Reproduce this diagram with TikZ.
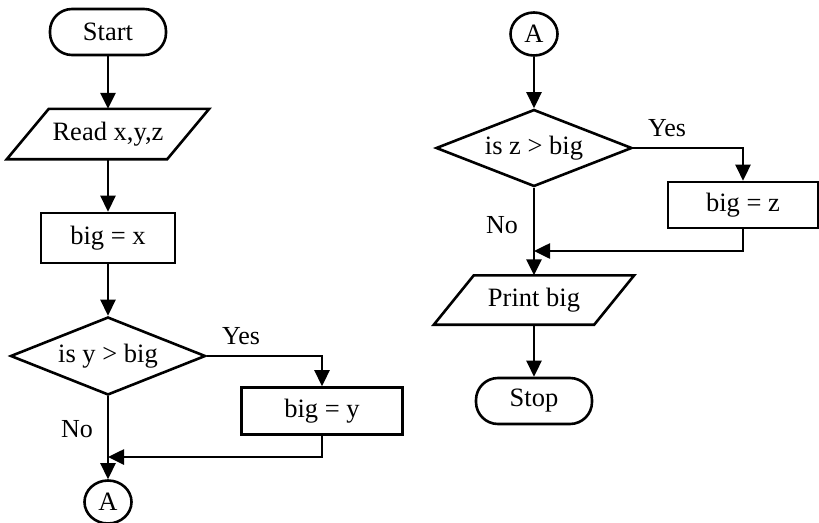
\documentclass[tikz,border=0pt]{standalone}
\usepackage{fontspec}
\setmainfont{Liberation Serif}
\usetikzlibrary{arrows.meta,shapes.geometric,calc}

\tikzset{
  base/.style={draw, line width=2.6pt, inner sep=0pt, font=\fontsize{26.5}{30}\selectfont},
  terminal/.style={base, rectangle, rounded corners=22pt, minimum width=116pt, minimum height=46pt},
  process/.style={base, rectangle},
  decision/.style={base, diamond, aspect=2.6},
  connector/.style={base, ellipse, minimum width=47pt, minimum height=43pt},
  iobox/.style={inner sep=0pt, font=\fontsize{26.5}{30}\selectfont, minimum height=50pt},
  lbl/.style={inner sep=0pt, font=\fontsize{26}{30}\selectfont},
  flow/.style={line width=2.6pt, -{Triangle[length=16pt,width=15pt]}},
  plain/.style={line width=2.6pt}
}

% parallelogram drawn around a named rectangle node (slant to the left at the bottom)
\newcommand{\ioshape}[2]{%
  \draw[plain, line join=miter] (#1.north west) -- ($(#1.north east)+(#2,0)$)
    -- (#1.south east) -- ($(#1.south west)+(-#2,0)$) -- cycle;}

\begin{document}
\begin{tikzpicture}[x=1pt,y=-1pt]
\useasboundingbox (0,0) rectangle (819,522);

% ---- left column ----
\node[terminal] (start) at (108,32) {Start};
\node[iobox, minimum width=118pt] (read) at (108,134) {Read x,y,z};
\ioshape{read}{42}
\node[process, minimum width=134pt, minimum height=50pt] (bigx) at (108,238) {big = x};
\node[decision, minimum width=195pt, minimum height=78pt] (d1) at (108,356) {is y > big};
\node[process, minimum width=161pt, minimum height=47pt] (bigy) at (322,411) {big = y};
\node[connector] (a1) at (108,502) {A};
\coordinate (j1) at (108,457);

\draw[flow] (start) -- (read.north);
\draw[flow] (read.south) -- (bigx);
\draw[flow] (bigx) -- (d1);
\draw[flow] (d1.east) -| (bigy.north);
\draw[flow] (d1.south) -- (a1.north);
\draw[flow] (bigy.south) |- (j1);
\node[lbl] at (241,336) {Yes};
\node[lbl] at (77,429) {No};

% ---- right column ----
\node[connector] (a2) at (534,34) {A};
\node[decision, minimum width=196pt, minimum height=77pt] (d2) at (534,148) {is z > big};
\node[process, minimum width=150pt, minimum height=46pt] (bigz) at (743,205) {big = z};
\node[iobox, minimum width=120pt, minimum height=49pt] (print) at (534,300) {Print big};
\ioshape{print}{40}
\node[terminal] (stop) at (534,401) {Stop};
\coordinate (j2) at (534,251);

\draw[flow] (a2) -- (d2.north);
\draw[flow] (d2.east) -| (bigz.north);
\draw[flow] (d2.south) -- (print.north);
\draw[flow] (bigz.south) |- (j2);
\draw[flow] (print.south) -- (stop);
\node[lbl] at (667,128) {Yes};
\node[lbl] at (502,225) {No};
\end{tikzpicture}
\end{document}
